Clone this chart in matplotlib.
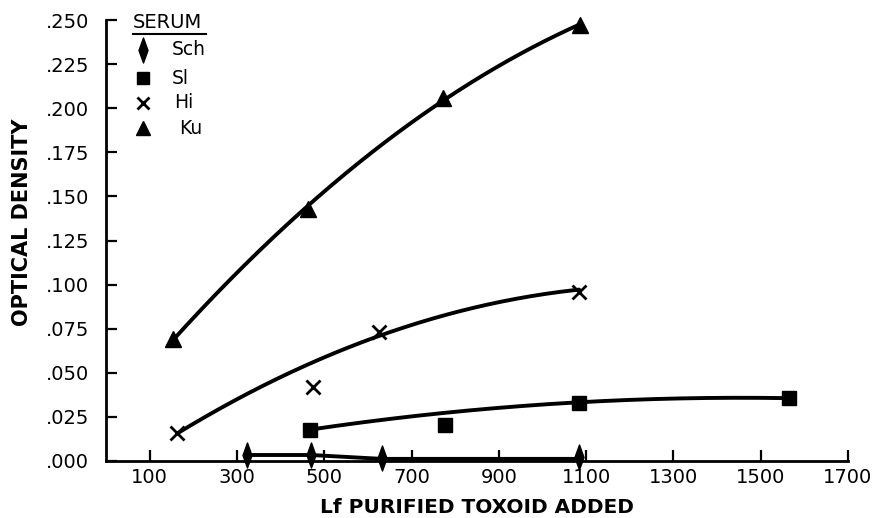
import numpy as np
import matplotlib
matplotlib.use("Agg")
import matplotlib.pyplot as plt
from matplotlib.path import Path

plt.rcParams['font.family'] = ['DejaVu Sans']

# ---- data ----
ku_x = [153, 463, 772, 1086]
ku_y = [0.069, 0.143, 0.206, 0.247]

hi_x = [163, 474, 625, 1084]
hi_y = [0.016, 0.042, 0.073, 0.096]

sl_x = [467, 777, 1084, 1565]
sl_y = [0.0176, 0.0204, 0.0329, 0.0357]

sch_x = [323, 470, 632, 1084]
sch_y = [0.0034, 0.0034, 0.0017, 0.0020]

# fitted (hand-drawn) curve readings
ku_curve_x = [153, 463, 772, 1086]
ku_curve_y = [0.069, 0.143, 0.206, 0.247]
hi_curve_x = [165, 474, 625, 857, 1084]
hi_curve_y = [0.017, 0.052, 0.073, 0.0896, 0.096]
sl_curve_x = [467, 777, 1084, 1565]
sl_curve_y = [0.0176, 0.0278, 0.0329, 0.0357]
sch_curve_x = [323, 470, 632, 1084]
sch_curve_y = [0.0034, 0.0034, 0.0012, 0.0012]

x_ticks = [100, 300, 500, 700, 900, 1100, 1300, 1500, 1700]
y_ticks = [0.000, 0.025, 0.050, 0.075, 0.100, 0.125, 0.150, 0.175, 0.200, 0.225, 0.250]
y_labels = ['.000', '.025', '.050', '.075', '.100', '.125', '.150', '.175', '.200', '.225', '.250']
legend_labels = ['Sch', 'Sl', 'Hi', 'Ku']

diamond = Path([(0, 1), (0.36, 0), (0, -1), (-0.36, 0), (0, 1)],
               [Path.MOVETO, Path.LINETO, Path.LINETO, Path.LINETO, Path.CLOSEPOLY])

fig = plt.figure(figsize=(8.75, 5.18), dpi=100)
ax = fig.add_axes([106/875, 1-461/518, 742/875, 441/518])

lw = 2.8
def smooth(xs, ys, deg=2):
    c = np.polyfit(xs, ys, deg)
    xx = np.linspace(min(xs), max(xs), 200)
    return xx, np.polyval(c, xx)

xx, yy = smooth(ku_curve_x, ku_curve_y, 2)
ax.plot(xx, yy, color='black', lw=lw, solid_capstyle='round')
xx, yy = smooth(hi_curve_x, hi_curve_y, 2)
ax.plot(xx, yy, color='black', lw=lw, solid_capstyle='round')
xx, yy = smooth(sl_curve_x, sl_curve_y, 2)
ax.plot(xx, yy, color='black', lw=lw, solid_capstyle='round')
ax.plot(sch_curve_x, sch_curve_y, color='black', lw=lw)

ax.plot(ku_x, ku_y, ls='none', marker='^', ms=11, color='black', clip_on=False)
ax.plot(hi_x, hi_y, ls='none', marker='x', ms=10, mew=2.0, color='black', clip_on=False)
ax.plot(sl_x, sl_y, ls='none', marker='s', ms=10, color='black', clip_on=False)
ax.plot(sch_x, sch_y, ls='none', marker=diamond, ms=18, color='black', clip_on=False)

ax.set_xlim(0, 1700)
ax.set_ylim(0, 0.25)
ax.set_xticks(x_ticks)
ax.set_xticklabels([str(t) for t in x_ticks])
ax.set_yticks(y_ticks)
ax.set_yticklabels(y_labels)
ax.tick_params(direction='in', length=8, width=1.6, labelsize=14)
ax.tick_params(axis='x', pad=5)
ax.tick_params(axis='y', pad=12)
for s in ['top', 'right']:
    ax.spines[s].set_visible(False)
for s in ['left', 'bottom']:
    ax.spines[s].set_linewidth(2)

ax.set_xlabel('Lf PURIFIED TOXOID ADDED', fontsize=14.5, fontweight='bold')
ax.xaxis.set_label_coords(0.50, -0.085)
ax.set_ylabel('OPTICAL DENSITY', fontsize=15, fontweight='bold')
ax.yaxis.set_label_coords(-0.100, 0.542)

# legend
ax.text(0.036, 0.995, 'SERUM', transform=ax.transAxes, fontsize=14, va='center', ha='left')
ax.plot([0.036, 0.135], [0.968, 0.968], transform=ax.transAxes, color='black', lw=1.5, clip_on=False)
rows = [0.932, 0.868, 0.812, 0.755]
mk = [dict(marker=diamond, ms=18), dict(marker='s', ms=9), dict(marker='x', ms=9, mew=2.0), dict(marker='^', ms=10)]
tx = [0.089, 0.089, 0.092, 0.099]
for r, m, lab, t in zip(rows, mk, legend_labels, tx):
    ax.plot([0.050], [r], transform=ax.transAxes, ls='none', color='black', clip_on=False, **m)
    ax.text(t, r, lab, transform=ax.transAxes, fontsize=13.5, va='center', ha='left')

fig.savefig('out.png', dpi=100)
